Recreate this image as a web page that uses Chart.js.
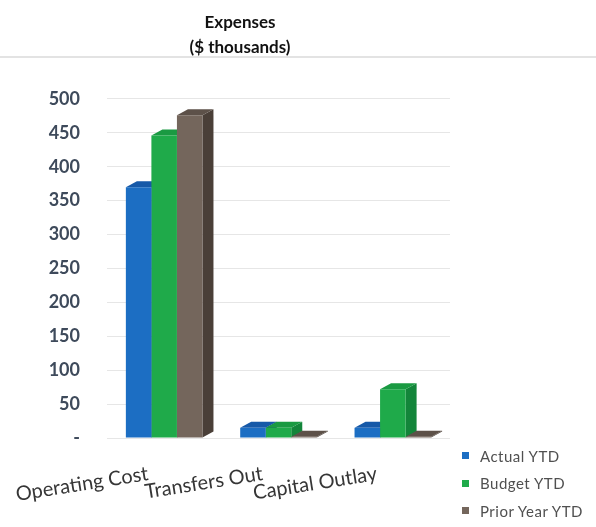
<!DOCTYPE html>
<html>
<head>
<meta charset="utf-8">
<title>Expenses</title>
<script src="https://cdn.jsdelivr.net/npm/chart.js@4"></script>
<style>
	body { margin: 0; background: #fff; }
	.div_chart { position: relative; width: 596px; height: 527px; }
	.rule { position: absolute; left: 0; top: 56px; width: 596px; height: 2px; background: #e3e3e3; }
	.legend {
		position: absolute; left: 462px; top: 442px;
		list-style: none; margin: 0; padding: 0;
		font: 15px Lato; letter-spacing: 0.5px; color: #505050;
	}
	.legend li { height: 27.5px; display: flex; align-items: center; white-space: nowrap; }
	.legend span { display: inline-block; width: 7px; height: 7px; margin-right: 11px; }
</style>
</head>
<body>
<div class="div_chart">
	<canvas class="chart"></canvas>
	<div class="rule"></div>
	<ul class="legend"></ul>
</div>
<script>
const categories = ['Operating Cost', 'Transfers Out', 'Capital Outlay'];
const actualYTD = [370, 15, 15];
const budgetYTD = [446, 15, 72];
const priorYearYTD = [476, 2, 2];
const seriesNames = ['Actual YTD', 'Budget YTD', 'Prior Year YTD'];

const frontColors = ['#1c6ec3', '#1faa4a', '#74665c'];
const topColors = ['#1659a8', '#1a9a42', '#5d5149'];
const sideColors = ['#12488a', '#13853a', '#4a3f38'];

// fake 3D: draw top and right faces behind the flat bars
const DEPTH_X = 11;
const DEPTH_Y = 6;
const bars3d = {
	id: 'bars3d',
	beforeDatasetsDraw(chart) {
		const ctx = chart.ctx;
		ctx.save();
		chart.data.datasets.forEach((ds, i) => {
			const meta = chart.getDatasetMeta(i);
			meta.data.forEach((bar) => {
				const { x, y, base, width } = bar.getProps(['x', 'y', 'base', 'width'], true);
				const left = x - width / 2;
				const right = x + width / 2;
				// right side
				ctx.fillStyle = sideColors[i];
				ctx.beginPath();
				ctx.moveTo(right, y);
				ctx.lineTo(right + DEPTH_X, y - DEPTH_Y);
				ctx.lineTo(right + DEPTH_X, base - DEPTH_Y);
				ctx.lineTo(right, base);
				ctx.closePath();
				ctx.fill();
				// top
				ctx.fillStyle = topColors[i];
				ctx.beginPath();
				ctx.moveTo(left, y);
				ctx.lineTo(left + DEPTH_X, y - DEPTH_Y);
				ctx.lineTo(right + DEPTH_X, y - DEPTH_Y);
				ctx.lineTo(right, y);
				ctx.closePath();
				ctx.fill();
			});
		});
		ctx.restore();
	},
};

// slanted category names, drawn by hand so they don't widen the left margin
const slantedLabels = {
	id: 'slantedLabels',
	afterDraw(chart) {
		const ctx = chart.ctx;
		const xScale = chart.scales.x;
		ctx.save();
		ctx.fillStyle = '#363636';
		ctx.font = '20px Lato';
		ctx.textAlign = 'right';
		ctx.textBaseline = 'alphabetic';
		xScale.ticks.forEach((tick, i) => {
			ctx.save();
			ctx.translate(xScale.getPixelForTick(i) - 15, chart.chartArea.bottom + 42);
			ctx.rotate((-9 * Math.PI) / 180);
			ctx.fillText(categories[i], 0, 0);
			ctx.restore();
		});
		ctx.restore();
	},
};

const htmlLegend = {
	id: 'htmlLegend',
	afterUpdate(chart) {
		const list = document.querySelector('.legend');
		list.innerHTML = '';
		chart.data.datasets.forEach((ds) => {
			const li = document.createElement('li');
			const box = document.createElement('span');
			box.style.background = ds.backgroundColor;
			li.append(box, ds.label);
			list.appendChild(li);
		});
	},
};

const ctx = document.querySelector('.chart');
new Chart(ctx, {
	type: 'bar',
	data: {
		labels: categories,
		datasets: [actualYTD, budgetYTD, priorYearYTD].map((values, i) => ({
			label: seriesNames[i],
			data: values,
			backgroundColor: frontColors[i],
			borderWidth: 0,
			categoryPercentage: 0.67,
			barPercentage: 1.0,
		})),
	},
	plugins: [bars3d, slantedLabels, htmlLegend],
	options: {
		responsive: true,
		maintainAspectRatio: false,
		animation: false,
		layout: { padding: { left: 30, right: 146, top: 0, bottom: 0 } },
		plugins: {
			title: {
				display: true,
				text: ['Expenses', '($ thousands)'],
				color: '#111',
				font: { family: 'Lato', size: 17, weight: 'bold', lineHeight: 1.47 },
				padding: { top: 10, bottom: 39 },
			},
			legend: { display: false },
			tooltip: { enabled: false },
		},
		scales: {
			x: {
				grid: { display: false },
				border: { display: false },
				ticks: { display: false },
				afterFit: (scale) => {
					scale.height = 89;
				},
			},
			y: {
				min: 0,
				max: 500,
				border: { display: false },
				grid: { color: '#e6e6e6', drawTicks: false },
				afterFit: (scale) => {
					scale.width = 77;
				},
				ticks: {
					stepSize: 50,
					padding: 27,
					color: '#3e4a5b',
					font: { family: 'Lato', size: 18, weight: 'bold' },
					callback: (v) => (v === 0 ? '-' : v),
				},
			},
		},
	},
});
</script>
</body>
</html>
